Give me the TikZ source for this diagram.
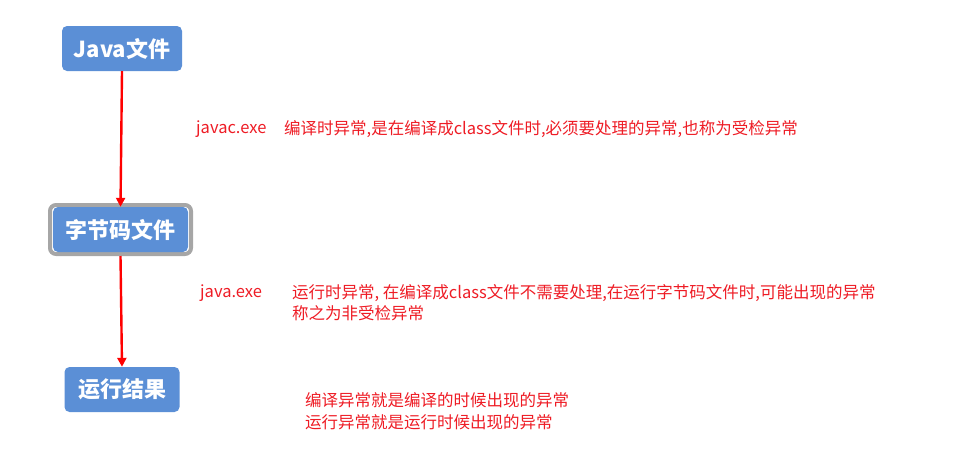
\documentclass[tikz,border=0pt]{standalone}
\usepackage{fontspec}
\setmainfont{Noto Sans CJK SC}
\usetikzlibrary{arrows.meta}
\definecolor{boxblue}{HTML}{5B8FD6}
\definecolor{txtred}{HTML}{EE1C25}
\definecolor{bordergray}{HTML}{A6A6A6}
\tikzset{
  box/.style={fill=boxblue, rounded corners=5pt, text=white, font=\bfseries\fontsize{22}{24}\selectfont, inner sep=0pt, align=center},
  note/.style={text=txtred, font=\fontsize{16.5}{20}\selectfont, anchor=west, inner sep=0pt},
  flow/.style={draw=red, line width=2.4pt, -{Triangle[length=9pt,width=9pt]}}
}
\begin{document}
\begin{tikzpicture}[x=1pt,y=-1pt]
\useasboundingbox (0,0) rectangle (973,469);
\node[box, minimum width=120pt, minimum height=45pt] (java) at (122,48.5) {Java文件};
\node[draw=bordergray, line width=4pt, rounded corners=6pt, minimum width=141pt, minimum height=49pt] (bcframe) at (120.5,229.5) {};
\node[box, minimum width=135pt, minimum height=45pt] (bc) at (120.5,229.5) {字节码文件};
\node[box, minimum width=115pt, minimum height=45pt] (run) at (122,389.5) {运行结果};
\draw[flow] (java.south) -- (bc.north);
\draw[flow] (bcframe.south) -- (run.north);
\node[note] (t1a) at (196,129) {javac.exe};
\node[note] (t1b) at (284,129) {编译时异常,是在编译成class文件时,必须要处理的异常,也称为受检异常};
\node[note] (t2a) at (200,293) {java.exe};
\node[note] (t2b) at (292,293) {运行时异常, 在编译成class文件不需要处理,在运行字节码文件时,可能出现的异常};
\node[note] (t2c) at (292,313) {称之为非受检异常};
\node[note] (t3a) at (305,400) {编译异常就是编译的时候出现的异常};
\node[note] (t3b) at (305,422) {运行异常就是运行时候出现的异常};
\end{tikzpicture}
\end{document}
